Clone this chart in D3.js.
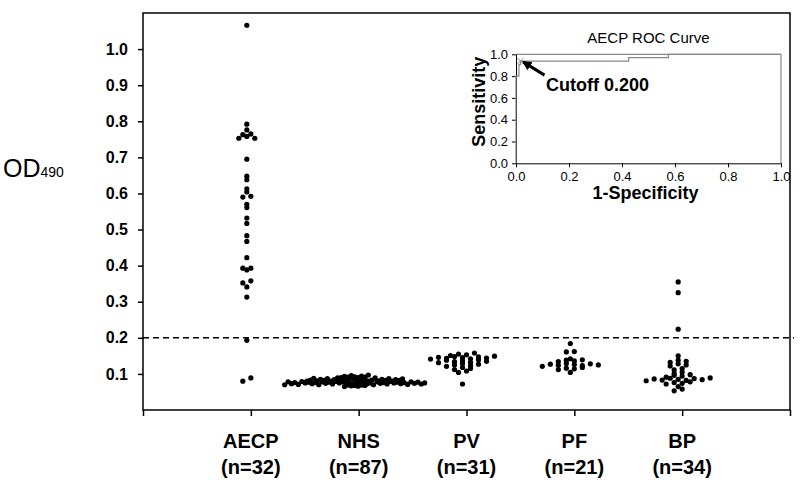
<!DOCTYPE html>
<html><head><meta charset="utf-8">
<script src="https://cdn.jsdelivr.net/npm/d3@7"></script>
<style>
html,body{margin:0;padding:0;background:#fff;}
text{font-family:"Liberation Sans",Arial,sans-serif;}
</style></head>
<body><svg id="c" width="800" height="484"></svg>
<script>
// ---------- data ----------
const categories = ["AECP","NHS","PV","PF","BP"];
const counts = [32,87,31,21,34];
const aecp = [1.066,0.792,0.776,0.765,0.763,0.758,0.753,0.753,0.695,0.648,0.638,0.613,0.604,0.592,0.590,0.570,0.561,0.532,0.517,0.483,0.467,0.422,0.393,0.393,0.388,0.358,0.352,0.341,0.313,0.193,0.089,0.080];
const nhs = [0.065,0.066,0.067,0.068,0.068,0.069,0.069,0.070,0.070,0.070,
  0.071,0.071,0.071,0.072,0.072,0.072,0.072,0.073,0.073,0.073,
  0.073,0.074,0.074,0.074,0.074,0.075,0.075,0.075,0.075,0.075,
  0.076,0.076,0.076,0.076,0.076,0.077,0.077,0.077,0.077,0.077,
  0.078,0.078,0.078,0.078,0.078,0.079,0.079,0.079,0.079,0.080,
  0.080,0.080,0.080,0.081,0.081,0.081,0.081,0.082,0.082,0.082,
  0.082,0.083,0.083,0.083,0.084,0.084,0.084,0.085,0.085,0.085,
  0.086,0.086,0.087,0.087,0.088,0.088,0.089,0.089,0.090,0.090,
  0.091,0.091,0.092,0.093,0.094,0.095,0.097];
const pv = [0.158,0.155,0.153,0.151,0.149,0.148,0.147,0.146,0.145,0.144,0.143,0.142,0.141,0.139,0.138,0.137,0.135,0.134,0.132,0.131,0.129,0.127,0.125,0.123,0.121,0.118,0.115,0.112,0.108,0.104,0.072];
const pf = [0.184,0.162,0.161,0.142,0.139,0.138,0.136,0.134,0.129,0.128,0.127,0.126,0.125,0.124,0.123,0.121,0.118,0.116,0.114,0.112,0.104];
const bp = [0.355,0.325,0.224,0.150,0.138,0.135,0.132,0.128,0.125,0.122,0.115,0.111,0.105,0.101,0.098,0.096,0.094,0.091,0.089,0.088,0.087,0.086,0.085,0.084,0.083,0.082,0.081,0.078,0.076,0.074,0.072,0.065,0.058,0.053];
const groups = [aecp,nhs,pv,pf,bp];
const yTicks = [0.1,0.2,0.3,0.4,0.5,0.6,0.7,0.8,0.9,1.0];
const cutoff = 0.2;
// ROC inset
const rocFpr = [0,0,0.011,0.011,0.017,0.017,0.425,0.425,0.575,0.575,1.0];
const rocTpr = [0,0.80,0.80,0.906,0.906,0.9375,0.9375,0.969,0.969,1.0,1.0];
const cutoffPoint = [0.017,0.9375];
const rocTicks = [0,0.2,0.4,0.6,0.8,1.0];

// ---------- layout ----------
const svg = d3.select("#c");
const y = d3.scaleLinear([0,1.1],[410,13]);
const x = d3.scaleLinear([0,6],[143,790]);
const R = 2.6, SMAX = 8, MAXW = 140;

// frame
svg.append("rect").attr("x",x(0)).attr("y",y(1.1)).attr("width",x(6)-x(0)).attr("height",y(0)-y(1.1))
  .attr("fill","none").attr("stroke","#000").attr("stroke-width",1.5);

// y axis
const ya = svg.append("g").attr("transform",`translate(${x(0)},0)`)
  .call(d3.axisLeft(y).tickValues(yTicks).tickFormat(d3.format(".1f")).tickSize(5).tickSizeOuter(0).tickPadding(10));
ya.select(".domain").remove();
ya.selectAll("line").attr("stroke","#000").attr("stroke-width",1.5);
ya.selectAll("text").attr("font-size",16).attr("font-weight","bold").attr("fill","#000")
  .attr("font-family","'Liberation Sans',Arial,sans-serif");

// x axis
const xa = svg.append("g").attr("transform",`translate(0,${y(0)})`)
  .call(d3.axisBottom(x).tickValues(d3.range(0,7)).tickFormat("").tickSize(6).tickSizeOuter(0));
xa.select(".domain").remove();
xa.selectAll("line").attr("stroke","#000").attr("stroke-width",1.5);

// category labels
categories.forEach((c,i)=>{
  const t = svg.append("text").attr("text-anchor","middle").attr("font-weight","bold").attr("font-size",20);
  t.append("tspan").attr("x",x(i+1)).attr("y",448).text(c);
  t.append("tspan").attr("x",x(i+1)).attr("y",474).text(`(n=${counts[i]})`);
});

// y label OD490
const od = svg.append("text").attr("x",3).attr("y",177).attr("font-size",25);
od.append("tspan").text("OD");
od.append("tspan").attr("font-size",14).text("490");

// cutoff line
svg.append("line").attr("x1",x(0)).attr("x2",x(6)+4).attr("y1",y(cutoff)).attr("y2",y(cutoff))
  .attr("stroke","#000").attr("stroke-width",1.4).attr("stroke-dasharray","6,4");

// binned scatter: points of a 0.01 bin placed side by side, one spacing per column;
// values are spread over the slots with a deterministic low-discrepancy order
function layout(vals, cx){
  const bins = d3.group(vals, v=>Math.floor(v*100+1e-6));
  const maxN = d3.max(bins.values(), a=>a.length);
  const s = maxN>1 ? Math.min(SMAX, MAXW/(maxN-1)) : 0;
  const out=[];
  for(const [,arr] of bins){
    const n=arr.length;
    const sorted=arr.slice().sort((a,b)=>a-b);
    const order=d3.range(n).sort((a,b)=>((a*0.618034)%1)-((b*0.618034)%1));
    order.forEach((rank,slot)=>out.push({x:cx+(slot-(n-1)/2)*s,y:y(sorted[rank])}));
  }
  return out;
}
groups.forEach((g,i)=>{
  const pts = layout(g, x(i+1)-4);
  svg.append("g").selectAll("circle").data(pts).join("circle")
    .attr("cx",d=>d.x).attr("cy",d=>d.y).attr("r",R).attr("fill","#000");
});

// ---------- inset ----------
const ix = d3.scaleLinear([0,1],[516,781]);
const iy = d3.scaleLinear([0,1],[163.3,54.3]);
svg.append("path").attr("d",`M${ix(0)},${iy(1)}H${ix(1)}V${iy(0)}`).attr("fill","none")
  .attr("stroke","#888").attr("stroke-width",1.2);
const ia = svg.append("g").attr("transform",`translate(${ix(0)},0)`)
  .call(d3.axisLeft(iy).tickValues(rocTicks).tickFormat(d3.format(".1f")).tickSize(4).tickSizeOuter(0).tickPadding(4));
const ib = svg.append("g").attr("transform",`translate(0,${iy(0)})`)
  .call(d3.axisBottom(ix).tickValues(rocTicks).tickFormat(d3.format(".1f")).tickSize(4).tickSizeOuter(0).tickPadding(4));
[ia,ib].forEach(a=>{
  a.select(".domain").attr("stroke","#000").attr("stroke-width",1);
  a.selectAll("line").attr("stroke","#000");
  a.selectAll("text").attr("font-size",13).attr("fill","#000").attr("font-family","'Liberation Sans',Arial,sans-serif");
});
const roc = rocFpr.map((f,i)=>[f,rocTpr[i]]);
svg.append("path").datum(roc).attr("d",d3.line().x(d=>ix(d[0])).y(d=>iy(d[1])))
  .attr("fill","none").attr("stroke","#888").attr("stroke-width",1.2);
const mx=ix(cutoffPoint[0]), my=iy(cutoffPoint[1]);
svg.append("path").attr("d",`M${mx-3},${my-3}L${mx+3},${my+3}M${mx-3},${my+3}L${mx+3},${my-3}`)
  .attr("stroke","#888").attr("stroke-width",1);
svg.append("defs").append("marker").attr("id","ah").attr("viewBox","0 0 10 10").attr("refX",8).attr("refY",5)
  .attr("markerWidth",3.2).attr("markerHeight",3.2).attr("orient","auto")
  .append("path").attr("d","M0,0L10,5L0,10z").attr("fill","#000");
svg.append("line").attr("x1",mx+24).attr("y1",my+14).attr("x2",mx+3).attr("y2",my+1)
  .attr("stroke","#000").attr("stroke-width",3).attr("marker-end","url(#ah)");
svg.append("text").attr("x",546).attr("y",91).attr("font-size",18).attr("font-weight","bold").text("Cutoff 0.200");
svg.append("text").attr("x",(ix(0)+ix(1))/2).attr("y",43).attr("text-anchor","middle").attr("font-size",15).text("AECP ROC Curve");
svg.append("text").attr("x",(ix(0)+ix(1))/2-3).attr("y",199).attr("text-anchor","middle").attr("font-size",18).attr("font-weight","bold").text("1-Specificity");
svg.append("text").attr("transform",`translate(485,${(iy(0)+iy(1))/2-7}) rotate(-90)`).attr("text-anchor","middle")
  .attr("font-size",18).attr("font-weight","bold").text("Sensitivity");
</script></body></html>
